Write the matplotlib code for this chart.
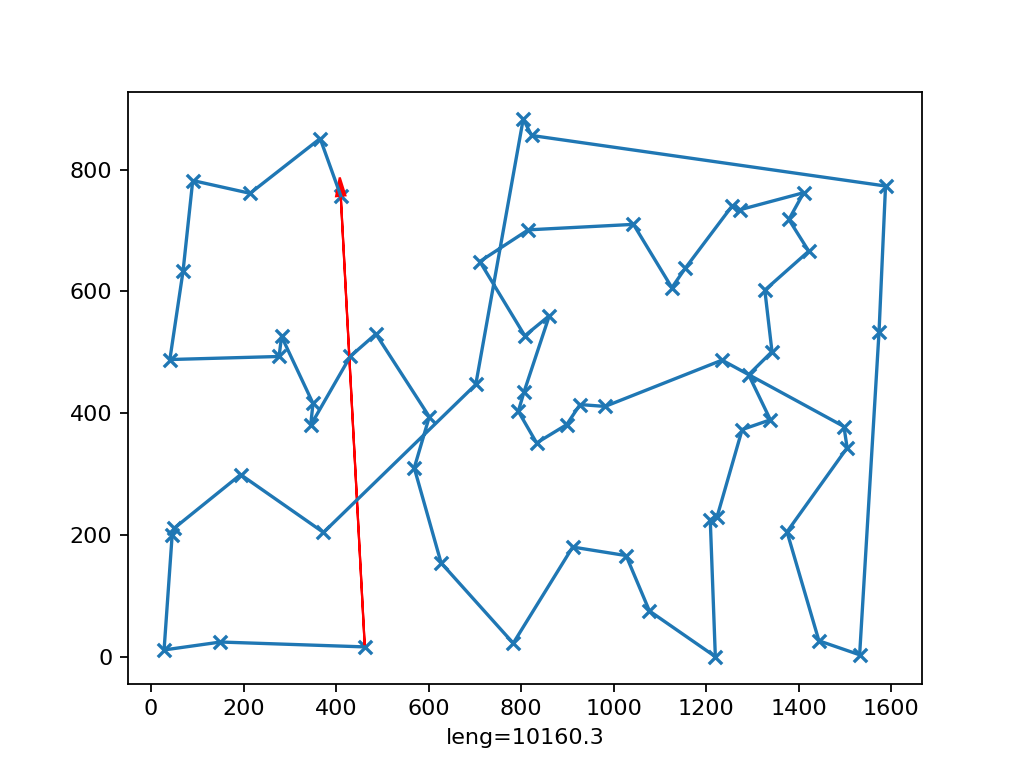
#!/usr/bin/env python3

import matplotlib
matplotlib.use("Agg")
import matplotlib.pyplot as plt

# tour order
xs = [410, 365.5, 214, 90, 69, 40.5, 276.7, 282, 350, 345,
      430.5, 486, 601.5, 569, 627, 783, 911.5, 1027, 1077.5, 1220,
      1209, 1223.5, 1278, 1339, 1292, 1342.5, 1327, 1422, 1379, 1411,
      1273, 1256, 1155, 1126, 1043, 815.5, 710.7, 808, 861, 806,
      794, 833.5, 898.5, 927.4, 981.6, 1234.5, 1498, 1505, 1375, 1444,
      1532, 1574, 1588, 822.7, 804.6, 702, 372.7, 193.5, 50, 45.5,
      28, 150, 462]
ys = [757, 851, 761, 782, 633, 488, 493, 526, 416, 380,
      493, 530, 394, 310, 154, 22, 180, 166, 75, 0,
      225, 229, 373, 389, 463, 501, 602, 666, 718, 762,
      734, 740, 638, 606, 710, 701, 649, 527, 560, 434,
      403, 351, 381, 414, 411, 487, 378, 343, 205, 26,
      3, 534, 773, 856, 883, 447, 204, 299, 211, 200,
      11, 24, 16]
length_label = "leng=10160.3"


def draw(xs, ys, outname):
    fig, ax = plt.subplots(dpi=160)
    ax.plot(xs, ys)
    ax.scatter(xs, ys, marker='x')
    # closing edge, last city back to the first
    ax.arrow(xs[-1], ys[-1], xs[0] - xs[-1], ys[0] - ys[-1],
             color='r', head_width=20)
    ax.set_xlabel(length_label)
    fig.savefig(outname)


if __name__ == "__main__":
    draw(xs, ys, "out.png")
